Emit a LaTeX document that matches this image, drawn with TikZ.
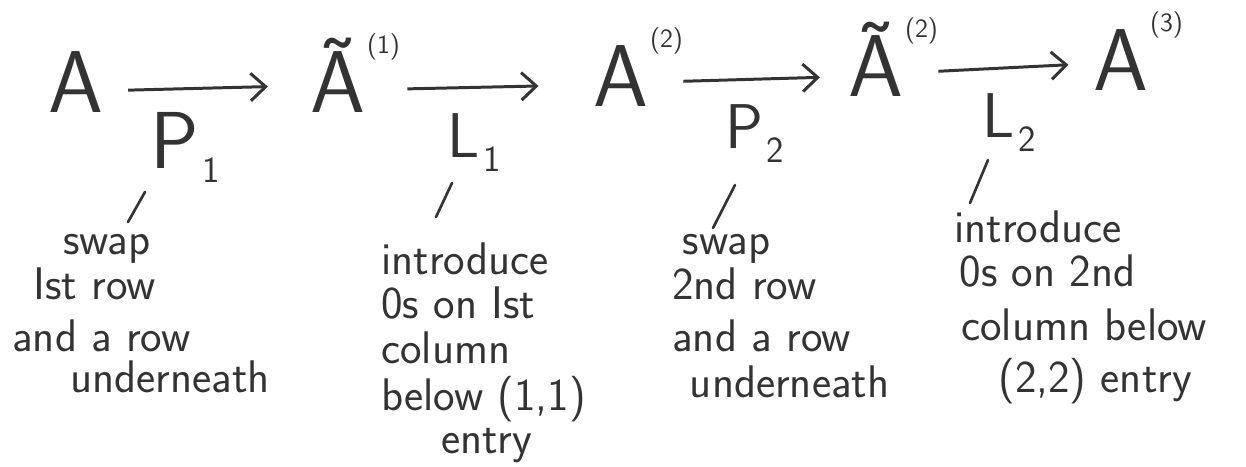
\documentclass[tikz,border=0pt]{standalone}
\usetikzlibrary{arrows.meta,positioning}
\definecolor{pencil}{HTML}{333333}
\newcommand\supidx[1]{\kern1pt\raisebox{34pt}{\fontsize{15}{15}\selectfont(#1)}}
\newcommand\subidx[1]{\raisebox{-8pt}{\fontsize{21}{21}\selectfont\kern2pt#1}}
\tikzset{
  matnode/.style={
    inner sep=0pt,
    anchor=west,
    text height=35pt,
    text depth=0pt,
    font=\fontsize{50}{52}\selectfont\sffamily,
    text=pencil
  },
  oplabel/.style={
    inner sep=0pt,
    anchor=base west,
    font=\fontsize{36}{38}\selectfont\sffamily,
    text=pencil
  },
  note/.style={
    inner sep=0pt,
    anchor=north west,
    align=left,
    font=\fontsize{26}{25.5}\selectfont\sffamily,
    text=pencil,
    execute at begin node=\rule{0pt}{19pt}
  },
  maparrow/.style={-{Straight Barb[length=3mm,width=5.5mm]}, line width=1.7pt, draw=pencil},
  tick/.style={line width=1.5pt, draw=pencil, line cap=round}
}

\begin{document}
\begin{tikzpicture}[x=0.02cm, y=-0.02cm]
  \useasboundingbox (0,0) rectangle (1246,466);

  % chain of matrices
  \node[matnode] (a)   at (48,82)   {A};
  \node[matnode] (at1) at (310,82)  {\~A\supidx{1}};
  \node[matnode] (a2)  at (593,76)  {A\supidx{2}};
  \node[matnode] (at2) at (848,66)  {\~A\supidx{2}};
  \node[matnode] (a3)  at (1093,60) {A\supidx{3}};

  \draw[maparrow, shorten <=14pt, shorten >=24pt] ([yshift=-5pt]a.east) -- ([yshift=-2pt]at1.west);
  \draw[maparrow, shorten <=4pt, shorten >=31pt] ([yshift=-4pt]at1.east) -- ([yshift=-5pt]a2.west);
  \draw[maparrow, shorten <=0pt, shorten >=16pt] ([yshift=-3pt]a2.east) -- ([yshift=-6pt]at2.west);
  \draw[maparrow, shorten <=0pt, shorten >=14pt] ([yshift=-3pt]at2.east) -- ([yshift=-2pt]a3.west);

  % operations
  \node[oplabel, font=\fontsize{46}{48}\selectfont\sffamily] (p1) at (150,168) {P\subidx{1}};
  \node[oplabel] (l1) at (447,157) {L\subidx{1}};
  \node[oplabel] (p2) at (725,148) {P\subidx{2}};
  \node[oplabel] (l2) at (982,137) {L\subidx{2}};

  % what they do
  \node[note] (n1) at (12,234) {\hspace*{29pt}swap\\ \hspace*{12pt}Ist row\\[4pt] and a row\\[-2pt] \hspace*{33pt}underneath};
  \node[note] (n2) at (381,242) {introduce\\ 0s on Ist\\ column\\[1pt] below (1,1)\\[-1pt] \hspace*{34pt}entry};
  \node[note] (n3) at (672,234) {\hspace*{6pt}swap\\ 2nd row\\[4pt] and a row\\[1pt] \hspace*{10pt}underneath};
  \node[note] (n4) at (954,210) {introduce\\ \hspace*{3pt}0s on 2nd\\[5pt] \hspace*{4pt}column below\\[4pt] \hspace*{25pt}(2,2) entry};

  % ticks from each operation to its note
  \coordinate (t1) at (145,192); \coordinate (b1) at (128,222);
  \coordinate (t2) at (452,183); \coordinate (b2) at (436,217);
  \coordinate (t3) at (735,185); \coordinate (b3) at (713,228);
  \coordinate (t4) at (988,160); \coordinate (b4) at (970,203);
  \draw[tick] (t1) -- (b1);
  \draw[tick] (t2) -- (b2);
  \draw[tick] (t3) -- (b3);
  \draw[tick] (t4) -- (b4);
\end{tikzpicture}
\end{document}
